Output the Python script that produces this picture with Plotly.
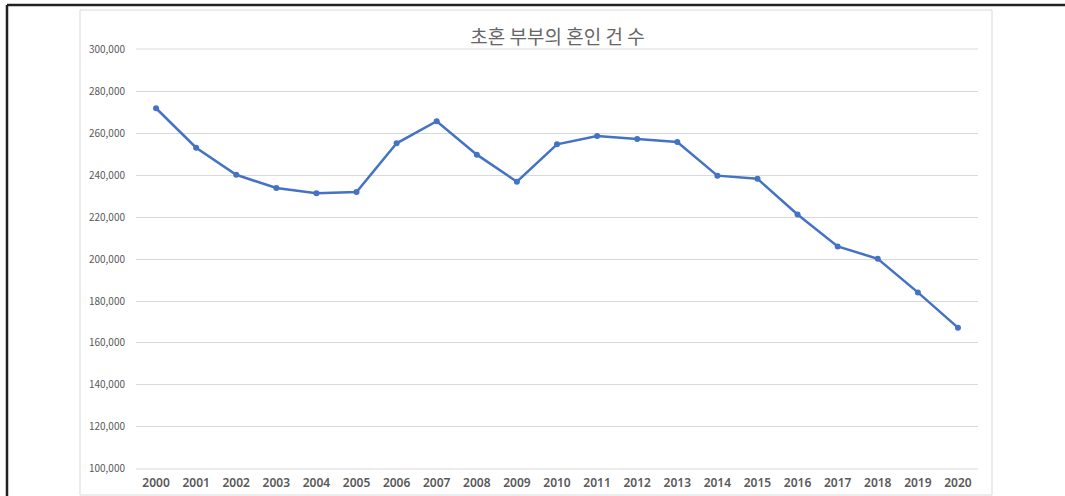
import plotly.graph_objects as go

years = [str(y) for y in range(2000, 2021)]
marriages = [271800, 253000, 240100, 233800, 231300, 231900, 255100, 265600,
             249700, 236800, 254600, 258600, 257100, 255700, 239700, 238200,
             221200, 206000, 200100, 184100, 167300]
y_ticks = list(range(100000, 300001, 20000))
title_text = "초혼 부부의 혼인 건 수"

W, H = 1065, 496
PL, PR, PT, PB = 136, 978, 49, 469  # plot area in pixels


def px(x):
    return (x - PL) / (PR - PL)


def py(y):
    return (PB - y) / (PB - PT)


fig = go.Figure()
fig.add_trace(go.Scatter(
    x=years, y=marriages, mode="lines+markers",
    line=dict(color="#4472C4", width=2.5),
    marker=dict(color="#4472C4", size=6),
    showlegend=False, hoverinfo="x+y",
))

font_family = "Noto Sans CJK KR, Noto Sans, sans-serif"
fig.update_layout(
    width=W, height=H,
    margin=dict(l=PL, r=W - PR, t=PT, b=H - PB, pad=0, autoexpand=False),
    paper_bgcolor="white", plot_bgcolor="white",
    font=dict(family=font_family, color="#595959", size=10),
    title=dict(text=title_text, x=557.5 / W, xanchor="center",
               y=1 - 37 / H, yanchor="middle",
               font=dict(size=19, color="#666666", family=font_family)),
    xaxis=dict(type="category", range=[-0.5, len(years) - 0.5], automargin=False,
               showgrid=False, zeroline=False, showline=False,
               ticks="", tickfont=dict(size=12, color="#595959", weight=600,
                                       family="Noto Sans, sans-serif"),
               ticklabelstandoff=5),
    yaxis=dict(range=[99990, 300010], tickvals=y_ticks, tickformat=",",
               automargin=False,
               showgrid=True, gridcolor="#D9D9D9", gridwidth=1, zeroline=False,
               showline=False, ticks="", tickfont=dict(size=10, color="#595959"),
               ticklabelstandoff=10),
    shapes=[
        dict(type="rect", xref="paper", yref="paper",
             x0=px(80), x1=px(992), y0=py(495), y1=py(10),
             line=dict(color="#D9D9D9", width=1), layer="below"),
        dict(type="line", xref="paper", yref="paper", x0=0, x1=1, y0=0, y1=0,
             line=dict(color="#D9D9D9", width=1), layer="below"),
        dict(type="line", xref="paper", yref="paper", x0=0, x1=1, y0=1, y1=1,
             line=dict(color="#D9D9D9", width=1), layer="below"),
        dict(type="line", xref="paper", yref="paper",
             x0=px(7), x1=px(1066), y0=py(5), y1=py(5),
             line=dict(color="#222222", width=2.5)),
        dict(type="line", xref="paper", yref="paper",
             x0=px(7), x1=px(7), y0=py(5), y1=py(497),
             line=dict(color="#222222", width=2.5)),
    ],
)

fig.write_html("out.html", config={"displayModeBar": False},
               post_script="document.body.style.margin='0px';"
                           "document.body.style.overflow='hidden';")
